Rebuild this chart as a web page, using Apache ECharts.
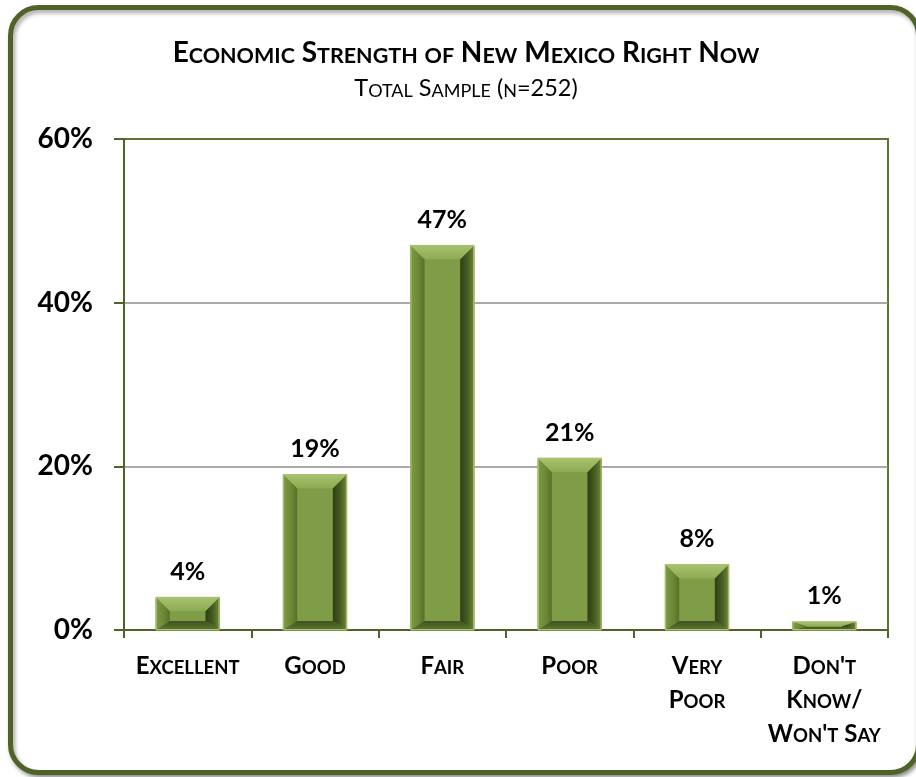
<!DOCTYPE html>
<html>
<head>
<meta charset="utf-8">
<title>Economic Strength of New Mexico Right Now</title>
<script src="https://cdn.jsdelivr.net/npm/echarts@6/dist/echarts.min.js"></script>
<style>
  html, body { margin: 0; padding: 0; background: #ffffff; }
  #chart { width: 916px; height: 777px; }
</style>
</head>
<body>
<div id="chart"></div>
<script>
// Survey answers and their shares (percent of total sample)
const categories = ['Excellent', 'Good', 'Fair', 'Poor', 'Very\nPoor', "Don't\nKnow/\nWon't Say"];
const shares = [4, 19, 47, 21, 8, 1];
const yTicks = [0, 20, 40, 60];

const titleText = 'Economic Strength of New Mexico Right Now';
const subtitleText = 'Total Sample (n=252)';

const FONT = 'Lato, "Open Sans", sans-serif';
const OLIVE = '#4f6228';

// Render a string as small caps using two rich-text styles:
// lowercase letters become small capitals, everything else stays full size.
function smallCaps(str, big, small) {
  let out = '', cur = null, buf = '';
  const flush = () => { if (buf) out += '{' + cur + '|' + buf + '}'; buf = ''; };
  for (const ch of str) {
    if (ch === '\n') { flush(); out += '\n'; continue; }
    const lower = ch !== ch.toUpperCase();
    const style = lower ? small : big;
    if (style !== cur) { flush(); cur = style; }
    buf += lower ? ch.toUpperCase() : ch;
  }
  flush();
  return out;
}

const chart = echarts.init(document.getElementById('chart'), null, { renderer: 'canvas' });

// Bevelled bar: flat face plus four shaded edge panels
function renderBevelBar(params, api) {
  const idx = api.value(0);
  const val = api.value(1);
  const top = api.coord([idx, val]);
  const base = api.coord([idx, 0]);
  const bw = api.size([1, 0])[0] * 0.5;
  const x0 = top[0] - bw / 2, x1 = top[0] + bw / 2;
  const yT = top[1], yB = base[1];
  const h = yB - yT;

  let t = 14, bb = 9;
  if (t + bb > h * 0.9) { const k = (h * 0.9) / (t + bb); t *= k; bb *= k; }
  const s = Math.min(14, bw / 2 - 2);

  const G = echarts.graphic.LinearGradient;
  const children = [
    { type: 'rect', shape: { x: x0, y: yT, width: bw, height: h },
      style: { fill: '#7f9c47', stroke: '#a9c273', lineWidth: 1 } },
    { type: 'polygon', shape: { points: [[x0, yT], [x1, yT], [x1 - s, yT + t], [x0 + s, yT + t]] },
      style: { fill: new G(0, 0, 0, 1, [{ offset: 0, color: '#a8c26f' }, { offset: 1, color: '#8cab52' }]) } },
    { type: 'polygon', shape: { points: [[x0, yT], [x0 + s, yT + t], [x0 + s, yB - bb], [x0, yB]] },
      style: { fill: new G(0, 0, 1, 0, [{ offset: 0, color: '#7c9a43' }, { offset: 0.6, color: '#6a8734' }, { offset: 1, color: '#55702a' }]) } },
    { type: 'polygon', shape: { points: [[x1, yT], [x1, yB], [x1 - s, yB - bb], [x1 - s, yT + t]] },
      style: { fill: new G(1, 0, 0, 0, [{ offset: 0, color: '#6c8836' }, { offset: 0.5, color: '#465a21' }, { offset: 1, color: '#2f3e17' }]) } },
    { type: 'polygon', shape: { points: [[x0, yB], [x0 + s, yB - bb], [x1 - s, yB - bb], [x1, yB]] },
      style: { fill: new G(0, 1, 0, 0, [{ offset: 0, color: '#5f7830' }, { offset: 1, color: '#3f5120' }]) } },
    { type: 'rect', shape: { x: x0 + 0.5, y: yT + 0.5, width: bw - 1, height: h - 1 },
      style: { fill: 'none', stroke: '#a9c273', lineWidth: 1 } },
    { type: 'text',
      style: { text: val + '%', x: top[0], y: yT - 13, align: 'center', verticalAlign: 'bottom',
               fontFamily: FONT, fontWeight: 'bold', fontSize: 25, fill: '#000000' } }
  ];
  return { type: 'group', children: children };
}

const option = {
  backgroundColor: '#ffffff',
  animation: false,
  graphic: [
    { type: 'rect', z: -10,
      shape: { x: 10.5, y: 7.5, width: 908, height: 765, r: 28 },
      style: { fill: '#ffffff', stroke: OLIVE, lineWidth: 5,
               shadowBlur: 4, shadowOffsetX: 2, shadowOffsetY: 3, shadowColor: 'rgba(0,0,0,0.35)' } },
    { type: 'text', z: 10,
      style: { x: 466, y: 51, align: 'center', verticalAlign: 'middle',
               text: smallCaps(titleText, 'b', 's'),
               rich: {
                 b: { fontFamily: FONT, fontWeight: 'bold', fontSize: 28, fill: '#000', verticalAlign: 'bottom', lineHeight: 32 },
                 s: { fontFamily: FONT, fontWeight: 'bold', fontSize: 21.5, fill: '#000', verticalAlign: 'bottom', lineHeight: 32 }
               } } },
    { type: 'text', z: 10,
      style: { x: 466, y: 86, align: 'center', verticalAlign: 'middle',
               text: smallCaps(subtitleText, 'b', 's'),
               rich: {
                 b: { fontFamily: FONT, fontSize: 23.5, fill: '#000', verticalAlign: 'bottom', lineHeight: 28 },
                 s: { fontFamily: FONT, fontSize: 18, fill: '#000', verticalAlign: 'bottom', lineHeight: 28 }
               } } }
  ],
  grid: { left: 124, right: 28, top: 139, bottom: 147, show: true,
          borderColor: '#5f7534', borderWidth: 2, backgroundColor: 'transparent' },
  xAxis: {
    type: 'category',
    data: categories,
    axisLine: { show: true, lineStyle: { color: OLIVE, width: 2 } },
    axisTick: { show: true, length: 8, lineStyle: { color: OLIVE, width: 2 } },
    axisLabel: {
      margin: 14,
      interval: 0,
      formatter: (v) => smallCaps(v, 'b', 's'),
      rich: {
        b: { fontFamily: FONT, fontWeight: 'bold', fontSize: 24, color: '#000', lineHeight: 34, verticalAlign: 'bottom' },
        s: { fontFamily: FONT, fontWeight: 'bold', fontSize: 18.5, color: '#000', lineHeight: 34, verticalAlign: 'bottom' }
      }
    }
  },
  yAxis: {
    type: 'value',
    min: yTicks[0],
    max: yTicks[yTicks.length - 1],
    interval: yTicks[1] - yTicks[0],
    axisLine: { show: true, lineStyle: { color: OLIVE, width: 2 } },
    axisTick: { show: true, length: 10, lineStyle: { color: OLIVE, width: 2 } },
    axisLabel: { margin: 31, formatter: '{value}%', fontFamily: FONT, fontWeight: 'bold', fontSize: 28, color: '#000' },
    splitLine: { show: true, lineStyle: { color: ['#8c8c8c', '#8c8c8c', '#8c8c8c', '#5f7534'], width: 1.5 } }
  },
  series: [{
    type: 'custom',
    renderItem: renderBevelBar,
    encode: { x: 0, y: 1 },
    data: shares.map((v, i) => [i, v]),
    clip: false,
    z: 5
  }]
};

chart.setOption(option);
</script>
</body>
</html>
